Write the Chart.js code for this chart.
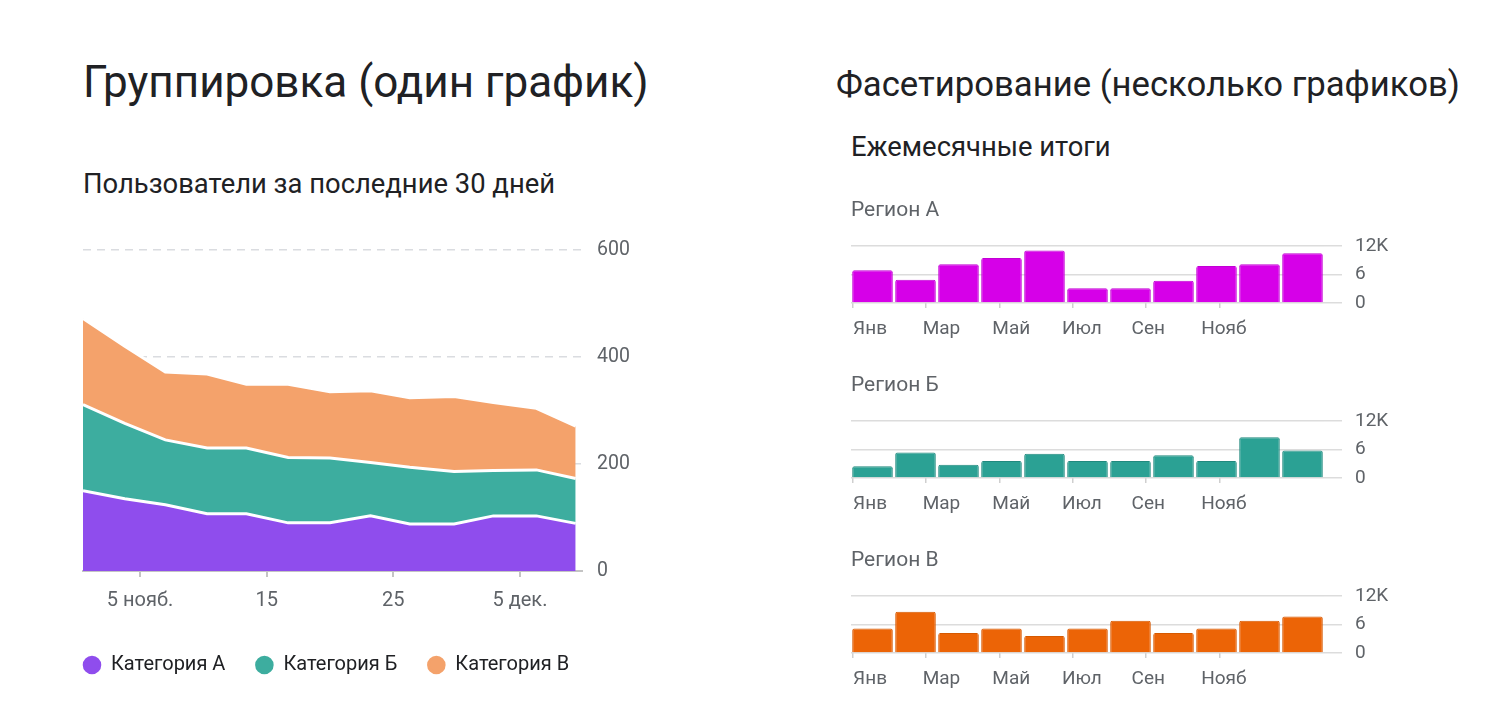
<!DOCTYPE html>
<html>
<head>
<meta charset="utf-8">
<script src="https://cdn.jsdelivr.net/npm/chart.js@4.4.1/dist/chart.umd.min.js"></script>
<style>
html,body{margin:0;padding:0;background:#fff;width:1488px;height:720px;overflow:hidden;}
.h{position:absolute;color:#202124;font-family:Roboto,sans-serif;white-space:nowrap;line-height:1;font-weight:400;}
#t1{left:83px;top:60px;font-size:44px;}
#t2{left:836px;top:67px;font-size:34.7px;}
#t3{left:83px;top:171px;font-size:27.4px;}
#t4{left:851px;top:134px;font-size:27.4px;}
canvas{position:absolute;}
</style>
</head>
<body>
<div class="h" id="t1">Группировка (один график)</div>
<div class="h" id="t2">Фасетирование (несколько графиков)</div>
<div class="h" id="t3">Пользователи за последние 30 дней</div>
<div class="h" id="t4">Ежемесячные итоги</div>
<canvas id="c0" width="620" height="470" style="left:53px;top:222px"></canvas>
<canvas id="c1" width="570" height="160" style="left:830px;top:190px"></canvas>
<canvas id="c2" width="570" height="160" style="left:830px;top:365px"></canvas>
<canvas id="c3" width="570" height="160" style="left:830px;top:540px"></canvas>
<script>
// ---------- Left chart data (stacked area) ----------
const days = [0.5, 3.8, 7, 10.3, 13.4, 16.7, 20, 23.2, 26.3, 29.8, 32.9, 36.3, 39.4];
const catA = [150, 135, 124, 107, 107, 90, 90, 103, 88, 88, 103, 103, 89];
const catB = [161, 141, 121, 123, 123, 122, 121, 100, 106, 98, 85, 86, 84];
const catC = [161, 144, 127, 138, 119, 137, 124, 134, 130, 140, 127, 115, 98];
const seriesNames = ['Категория А', 'Категория Б', 'Категория В'];
const tickDays = [5, 15, 25, 35];
const xTickLabels = ['5 нояб.', '15', '25', '5 дек.'];
const yTicksLeft = [0, 200, 400, 600];

// ---------- Right charts data (monthly bars, thousands) ----------
const barCategories = ['Янв', 'Фев', 'Мар', 'Апр', 'Май', 'Июн', 'Июл', 'Авг', 'Сен', 'Окт', 'Нояб'];
const regionA = [6.9, 4.9, 8.2, 9.5, 11.1, 3.1, 3.1, 4.7, 7.8, 8.2, 10.5];
const regionB = [2.5, 5.4, 2.8, 3.6, 5.1, 3.6, 3.6, 4.8, 3.6, 8.6, 5.8];
const regionC = [5.2, 8.7, 4.2, 5.2, 3.6, 5.2, 6.8, 4.2, 5.2, 6.8, 7.7];
const regionNames = ['Регион А', 'Регион Б', 'Регион В'];
const monthTickValues = [0, 2, 4, 6, 8, 10];
const monthTickLabels = ['Янв', 'Мар', 'Май', 'Июл', 'Сен', 'Нояб'];
const yTicksRight = [0, 6, 12];
const yTickLabelsRight = ['0', '6', '12K'];

const FONT = 'Roboto';
const GRAY = '#5f6368';

// ---------- Left chart ----------
const areaColors = ['#8f4ded', '#3dad9f', '#f4a26b'];
const areaSeries = [catA, catB, catC];
new Chart(document.getElementById('c0'), {
  type: 'line',
  data: {
    datasets: areaSeries.map((s, k) => ({
      label: seriesNames[k],
      data: days.map((d, i) => ({ x: d, y: s[i] })),
      xAxisID: 'x', yAxisID: 'y',
      backgroundColor: areaColors[k],
      borderColor: '#ffffff',
      borderWidth: 3,
      pointRadius: 0,
      pointBackgroundColor: areaColors[k],
      pointBorderColor: areaColors[k],
      fill: k === 0 ? 'origin' : '-1',
      tension: 0
    }))
  },
  options: {
    responsive: false,
    animation: false,
    layout: { padding: { left: 0, right: 33, top: 28, bottom: 7 } },
    plugins: {
      title: { display: false },
      tooltip: { enabled: false },
      legend: {
        position: 'bottom', align: 'start',
        labels: {
          usePointStyle: true, pointStyle: 'circle',
          boxWidth: 18, boxHeight: 11, padding: 30,
          color: '#202124', font: { family: FONT, size: 20 }
        }
      }
    },
    scales: {
      x: {
        type: 'linear', min: 0.5, max: 39.9,
        afterBuildTicks: s => { s.ticks = tickDays.map(v => ({ value: v })); },
        ticks: {
          autoSkip: false, maxRotation: 0, padding: 12,
          color: GRAY, font: { family: FONT, size: 20 },
          callback: v => xTickLabels[tickDays.indexOf(v)]
        },
        grid: { drawOnChartArea: false, drawTicks: true, tickLength: 6, color: '#c4c4c4', lineWidth: 2 },
        border: { display: true, color: '#c4c4c4', width: 2 }
      },
      y: {
        position: 'right', stacked: true, min: 0, max: 600,
        afterBuildTicks: s => { s.ticks = yTicksLeft.map(v => ({ value: v })); },
        afterFit: s => { s.width = 58; },
        ticks: { padding: 15, color: GRAY, font: { family: FONT, size: 19.5 } },
        grid: {
          drawTicks: false, lineWidth: 1.5,
          color: c => (c.tick && c.tick.value === 0) ? 'rgba(0,0,0,0)' : '#dadce0'
        },
        border: { display: false, dash: [8, 6] }
      },
      pad: {
        type: 'linear', position: 'left', display: true,
        grid: { display: false }, ticks: { display: false }, border: { display: false },
        afterFit: s => { s.width = 30; }
      }
    }
  }
});

// ---------- Right charts ----------
const regionSeries = [regionA, regionB, regionC];
const barFill = ['#d600e8', '#2ba194', '#ec6406'];
const barEdge = ['#c200d4', '#21897e', '#d65900'];
regionSeries.forEach((vals, r) => {
  new Chart(document.getElementById('c' + (r + 1)), {
    type: 'bar',
    data: {
      labels: barCategories,
      datasets: [{
        label: regionNames[r],
        data: vals,
        xAxisID: 'x', yAxisID: 'y',
        backgroundColor: barFill[r],
        borderColor: barEdge[r],
        borderWidth: 1,
        borderRadius: 2,
        borderSkipped: 'bottom',
        categoryPercentage: 1,
        barPercentage: 0.944
      }]
    },
    options: {
      responsive: false,
      animation: false,
      layout: { padding: { left: 21, right: 6, top: 0, bottom: 11 } },
      plugins: {
        legend: { display: false },
        tooltip: { enabled: false },
        title: {
          display: true, text: regionNames[r], align: 'start',
          color: GRAY, font: { family: FONT, size: 21, weight: 'normal' },
          padding: { top: 8, bottom: 23 }
        }
      },
      scales: {
        x: { type: 'category', display: false, offset: true },
        // tick marks
        x2: {
          type: 'linear', position: 'bottom', axis: 'x', min: -0.05, max: 12.85,
          offset: false,
          afterBuildTicks: s => { s.ticks = monthTickValues.map(v => ({ value: v })); },
          afterFit: s => { s.height = 0; },
          ticks: { display: false },
          grid: { offset: false, drawOnChartArea: false, drawTicks: true, tickLength: 5, color: '#cfcfcf', lineWidth: 1.5 },
          border: { display: false }
        },
        // month labels
        x3: {
          type: 'linear', position: 'bottom', axis: 'x', min: -0.06, max: 13.53,
          offset: false,
          afterBuildTicks: s => { s.ticks = monthTickValues.map(v => ({ value: v })); },
          afterFit: s => { s.height = 36; },
          ticks: {
            autoSkip: false, maxRotation: 0, align: 'start', padding: 15,
            color: GRAY, font: { family: FONT, size: 19 },
            callback: v => monthTickLabels[monthTickValues.indexOf(v)]
          },
          grid: { display: false, drawTicks: false, offset: false },
          border: { display: false }
        },
        y: {
          position: 'right', min: 0, max: 12,
          afterBuildTicks: s => { s.ticks = yTicksRight.map(v => ({ value: v })); },
          afterFit: s => { s.width = 70; },
          ticks: {
            padding: 13, color: GRAY, font: { family: FONT, size: 19 },
            callback: v => yTickLabelsRight[yTicksRight.indexOf(v)]
          },
          grid: { drawTicks: true, tickLength: 18, color: '#dcdcdc', lineWidth: 1.5 },
          border: { display: false }
        }
      }
    }
  });
});
</script>
</body>
</html>
